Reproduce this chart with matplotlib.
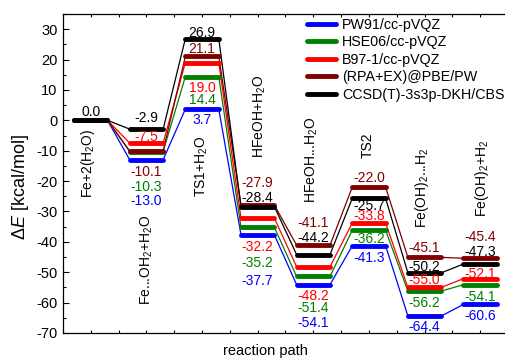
import matplotlib
matplotlib.use("Agg")
import matplotlib.pyplot as plt
from matplotlib.ticker import MultipleLocator

plt.rcParams['font.family'] = ['Liberation Sans', 'DejaVu Sans']
plt.rcParams['mathtext.fontset'] = 'custom'
plt.rcParams['mathtext.rm'] = 'Liberation Sans'
plt.rcParams['mathtext.it'] = 'Liberation Sans:italic'
plt.rcParams['axes.unicode_minus'] = False

# ---------------- data ----------------
states = ['Fe+2(H$_2$O)', 'Fe...OH$_2$+H$_2$O', 'TS1+H$_2$O', 'HFeOH+H$_2$O',
          'HFeOH...H$_2$O', 'TS2', 'Fe(OH)$_2$...H$_2$', 'Fe(OH)$_2$+H$_2$']
series_names = ['PW91/cc-pVQZ', 'HSE06/cc-pVQZ', 'B97-1/cc-pVQZ',
                '(RPA+EX)@PBE/PW', 'CCSD(T)-3s3p-DKH/CBS']
pw91 = [0.0, -13.0, 3.7, -37.7, -54.1, -41.3, -64.4, -60.6]
hse06 = [0.0, -10.3, 14.4, -35.2, -51.4, -36.2, -56.2, -54.1]
b971 = [0.0, -7.5, 19.0, -32.2, -48.2, -33.8, -55.0, -52.1]
rpa = [0.0, -10.1, 21.1, -27.9, -41.1, -22.0, -45.1, -45.4]
ccsdt = [0.0, -2.9, 26.9, -28.4, -44.2, -25.7, -50.2, -47.3]
y_ticks = [-70, -60, -50, -40, -30, -20, -10, 0, 10, 20, 30]

# ---------------- layout / style ----------------
colors = ['#0000ff', '#008000', '#ff0000', '#800000', '#000000']
all_series = [pw91, hse06, b971, rpa, ccsdt]
# label offsets in pixels (positive = below level); None = no label
label_off = [
    [None, 41.5, 11, 46, 38.5, 12, 11, 12],      # blue
    [None, 35, 23, 36, 32, 9, 12, 12.5],         # green
    [None, -6, 25, 29, 29.5, -7, -7, -5],        # red
    [None, 21, -7, -22, -22, -9, -9, -21],       # dark red
    [-8, -11, -6, -9, -17, 8, -5.6, -12],        # black
]
# state-name label positions (x, bottom y) in data coords
name_pos = [(-0.05, -25.7), (1.0, -60.9), (2.0, -25.3), (3.03, -12.5),
            (3.98, -27.3), (4.97, -12.5), (5.96, -35.5), (7.04, -31.9)]
half = 0.3
fs = 10.5

fig = plt.figure(figsize=(5.06, 3.58), dpi=100)
ax = fig.add_axes([63 / 506, 25 / 358, (508 - 63) / 506, (333 - 14) / 358])

for vals, c, name, offs in zip(all_series, colors, series_names, label_off):
    for i, v in enumerate(vals):
        ax.plot([i - half, i + half], [v, v], color=c, lw=3.5,
                solid_capstyle='round', zorder=3,
                label=name if i == 0 else None)
        if i < len(vals) - 1:
            ax.plot([i + half, i + 1 - half], [v, vals[i + 1]], color=c,
                    lw=0.9, zorder=2)
        if offs[i] is not None:
            ax.annotate(f'{v:.1f}', (i, v), xytext=(0, -offs[i] * 0.72),
                        textcoords='offset points', ha='center', va='center',
                        color=c, fontsize=10, zorder=4)

for s, (x, y) in zip(states, name_pos):
    ax.text(x, y, s, rotation=90, ha='center', va='bottom', fontsize=10)

ax.set_xlim(-0.5, 7.5)
ax.set_ylim(-70, 35)
ax.set_yticks(y_ticks)
ax.yaxis.set_minor_locator(MultipleLocator(5))
ax.xaxis.set_major_locator(MultipleLocator(0.5))
ax.tick_params(axis='x', which='both', direction='in', top=True, bottom=True,
               labelbottom=False, length=2.5, width=0.8)
ax.tick_params(axis='y', which='major', direction='in', length=4.5, width=0.8,
               labelsize=fs, pad=4)
ax.tick_params(axis='y', which='minor', direction='in', length=2.5, width=0.8)
ax.spines['right'].set_visible(False)
for sp in ['left', 'top', 'bottom']:
    ax.spines[sp].set_linewidth(0.9)

ax.set_ylabel('Δ$E$ [kcal/mol]', fontsize=13)
ax.yaxis.set_label_coords((31 - 63) / 445, (333 - 187) / 319)
ax.set_xlabel('reaction path', fontsize=fs)
ax.xaxis.set_label_coords((265 - 63) / 445, (333 - 344) / 319)

handles, labels = ax.get_legend_handles_labels()
leg = fig.legend(handles, labels, loc='upper left',
                 bbox_to_anchor=(307 / 506, 1 - 18 / 358),
                 bbox_transform=fig.transFigure, frameon=False, fontsize=10.3,
                 handlelength=2.0, handletextpad=0.45, labelspacing=0.24,
                 borderpad=0, borderaxespad=0)

fig.savefig('out.png', dpi=100)
